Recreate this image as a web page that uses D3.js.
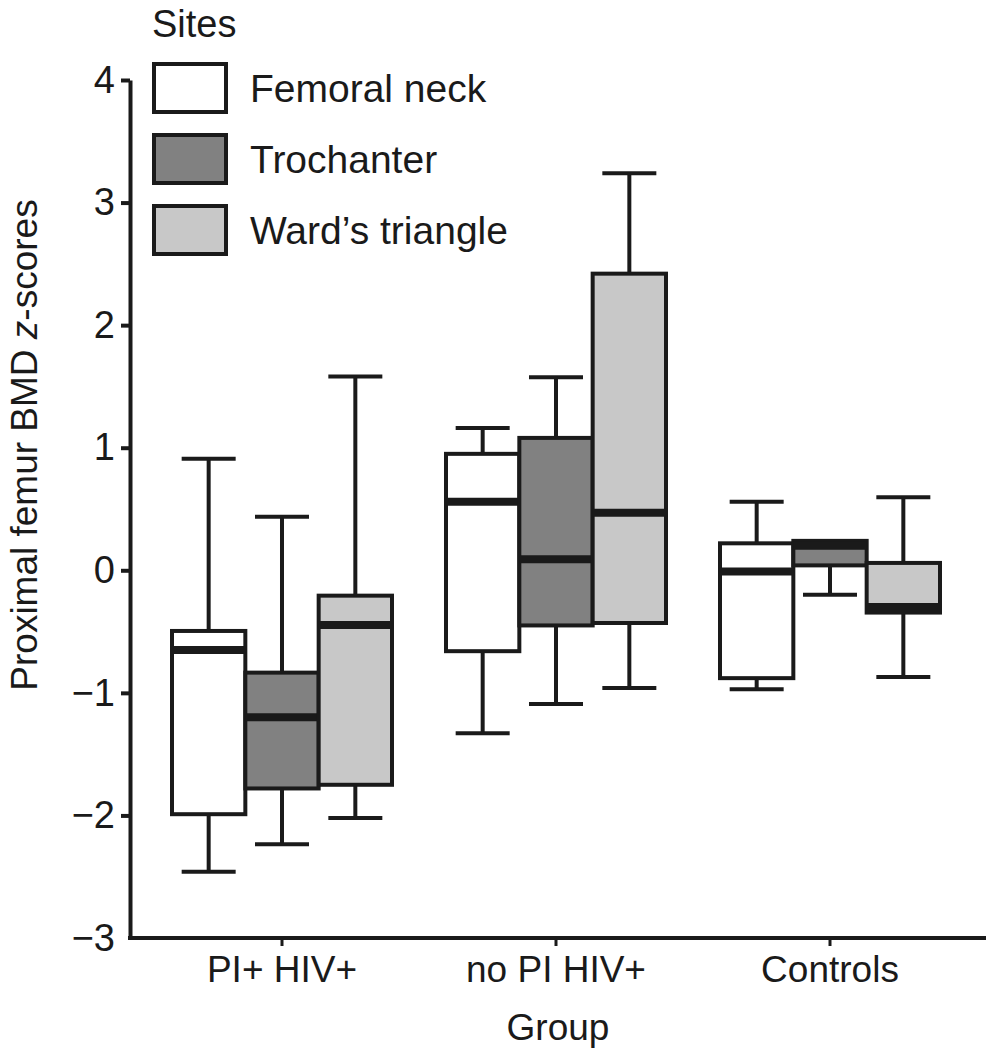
<!DOCTYPE html>
<html>
<head>
<meta charset="utf-8">
<script src="https://cdn.jsdelivr.net/npm/d3@7"></script>
<style>
  html, body { margin: 0; padding: 0; background: #fff; }
  svg { display: block; font-family: "Liberation Sans", Arial, Helvetica, sans-serif; }
</style>
</head>
<body>
<svg id="chart" width="986" height="1050"></svg>
<script>
// ---- data ----
const groups = ["PI+ HIV+", "no PI HIV+", "Controls"];
const sites = ["Femoral neck", "Trochanter", "Ward\u2019s triangle"];
const yTicks = [-3, -2, -1, 0, 1, 2, 3, 4];

// per site, per group: [lower whisker, Q1, median, Q3, upper whisker]
const femoralNeck = [
  [-2.46, -1.99, -0.65, -0.495, 0.91],
  [-1.33, -0.66, 0.56, 0.95, 1.16],
  [-0.97, -0.88, -0.01, 0.22, 0.56]
];
const trochanter = [
  [-2.235, -1.78, -1.20, -0.835, 0.437],
  [-1.09, -0.45, 0.09, 1.08, 1.575],
  [-0.20, 0.04, 0.20, 0.24, 0.24]
];
const wardsTriangle = [
  [-2.02, -1.75, -0.446, -0.207, 1.58],
  [-0.96, -0.43, 0.47, 2.42, 3.24],
  [-0.87, -0.345, -0.30, 0.06, 0.595]
];
const siteFills = ["#ffffff", "#818181", "#c8c8c8"];

const seriesValues = [femoralNeck, trochanter, wardsTriangle];
const boxes = [];
sites.forEach((s, si) => groups.forEach((g, gi) => {
  const v = seriesValues[si][gi];
  boxes.push({site: s, group: g, lo: v[0], q1: v[1], med: v[2], q3: v[3], hi: v[4]});
}));

// ---- layout ----
const svg = d3.select("#chart");
const W = 986, H = 1050;
const plotLeft = 130, plotTop = 80, plotBottom = 938;
const ink = "#1a1a1a";
const font = "Liberation Sans, Arial, sans-serif";

const y = d3.scaleLinear().domain([-3, 4]).range([plotBottom, plotTop]);
const x0 = d3.scaleBand().domain(groups).range([145, 967]).padding(0);
const x1 = d3.scaleBand().domain(sites).range([-110, 110]).padding(0);
const color = d3.scaleOrdinal().domain(sites).range(siteFills);
const capW = 54;

// ---- boxes ----
const g = svg.append("g");
const box = g.selectAll("g.box").data(boxes).join("g")
  .attr("class", "box")
  .attr("transform", d => `translate(${x0(d.group) + x0.bandwidth() / 2 + x1(d.site)},0)`);

const bw = x1.bandwidth();
// whiskers
box.filter(d => d.hi > d.q3).append("line")
  .attr("x1", bw / 2).attr("x2", bw / 2)
  .attr("y1", d => y(d.q3)).attr("y2", d => y(d.hi))
  .attr("stroke", ink).attr("stroke-width", 4);
box.filter(d => d.hi > d.q3).append("line")
  .attr("x1", bw / 2 - capW / 2).attr("x2", bw / 2 + capW / 2)
  .attr("y1", d => y(d.hi)).attr("y2", d => y(d.hi))
  .attr("stroke", ink).attr("stroke-width", 4);
box.append("line")
  .attr("x1", bw / 2).attr("x2", bw / 2)
  .attr("y1", d => y(d.q1)).attr("y2", d => y(d.lo))
  .attr("stroke", ink).attr("stroke-width", 4);
box.append("line")
  .attr("x1", bw / 2 - capW / 2).attr("x2", bw / 2 + capW / 2)
  .attr("y1", d => y(d.lo)).attr("y2", d => y(d.lo))
  .attr("stroke", ink).attr("stroke-width", 4);
// box
box.append("rect")
  .attr("x", 0).attr("width", bw)
  .attr("y", d => y(d.q3)).attr("height", d => y(d.q1) - y(d.q3))
  .attr("fill", d => color(d.site))
  .attr("stroke", ink).attr("stroke-width", 4);
// median
box.append("line")
  .attr("x1", 0).attr("x2", bw)
  .attr("y1", d => y(d.med)).attr("y2", d => y(d.med))
  .attr("stroke", ink).attr("stroke-width", 8);

// ---- axes ----
const yAxis = d3.axisLeft(y).tickValues(yTicks).tickSize(9).tickSizeOuter(0).tickPadding(6)
  .tickFormat(d3.format("d"));
const yg = svg.append("g").attr("transform", `translate(${plotLeft},0)`).call(yAxis);
yg.select(".domain").attr("stroke", ink).attr("stroke-width", 4);
yg.selectAll(".tick line").attr("stroke", ink).attr("stroke-width", 4)
  .filter(d => d === -3).remove();
yg.selectAll(".tick text").attr("font-size", 38).attr("fill", ink).attr("font-family", font);

const xAxis = d3.axisBottom(x0).tickSize(8).tickSizeOuter(0).tickPadding(10);
const xg = svg.append("g").attr("transform", `translate(0,${plotBottom})`).call(xAxis);
xg.select(".domain").remove();
xg.insert("line", ":first-child")
  .attr("x1", plotLeft - 2).attr("x2", W).attr("y1", 0).attr("y2", 0)
  .attr("stroke", ink).attr("stroke-width", 4);
xg.selectAll(".tick line").attr("stroke", ink).attr("stroke-width", 3);
xg.selectAll(".tick text").attr("font-size", 37).attr("fill", ink).attr("font-family", font);

// axis titles
svg.append("text")
  .attr("x", x0.range()[0] + (x0.range()[1] - x0.range()[0]) / 2 + 2)
  .attr("y", 1040)
  .attr("text-anchor", "middle").attr("font-size", 37).attr("fill", ink)
  .text("Group");

const yt = svg.append("text")
  .attr("transform", `translate(37,445) rotate(-90)`)
  .attr("text-anchor", "middle").attr("font-size", 37).attr("fill", ink);
yt.append("tspan").text("Proximal femur BMD ");
yt.append("tspan").attr("font-style", "italic").text("z");
yt.append("tspan").text("-scores");

// ---- legend ----
const legend = svg.append("g");
legend.append("text").attr("x", 152).attr("y", 37)
  .attr("font-size", 38).attr("fill", ink).text("Sites");
const rowY = d3.scalePoint().domain(sites).range([88, 230]);
const li = legend.selectAll("g.li").data(sites).join("g").attr("class", "li")
  .attr("transform", d => `translate(0,${rowY(d)})`);
li.append("rect").attr("x", 154).attr("y", -24).attr("width", 72).attr("height", 48)
  .attr("fill", d => color(d)).attr("stroke", ink).attr("stroke-width", 4);
li.append("text").attr("x", 250).attr("y", 0).attr("dy", "0.35em")
  .attr("font-size", 39).attr("fill", ink).text(d => d);
</script>
</body>
</html>
